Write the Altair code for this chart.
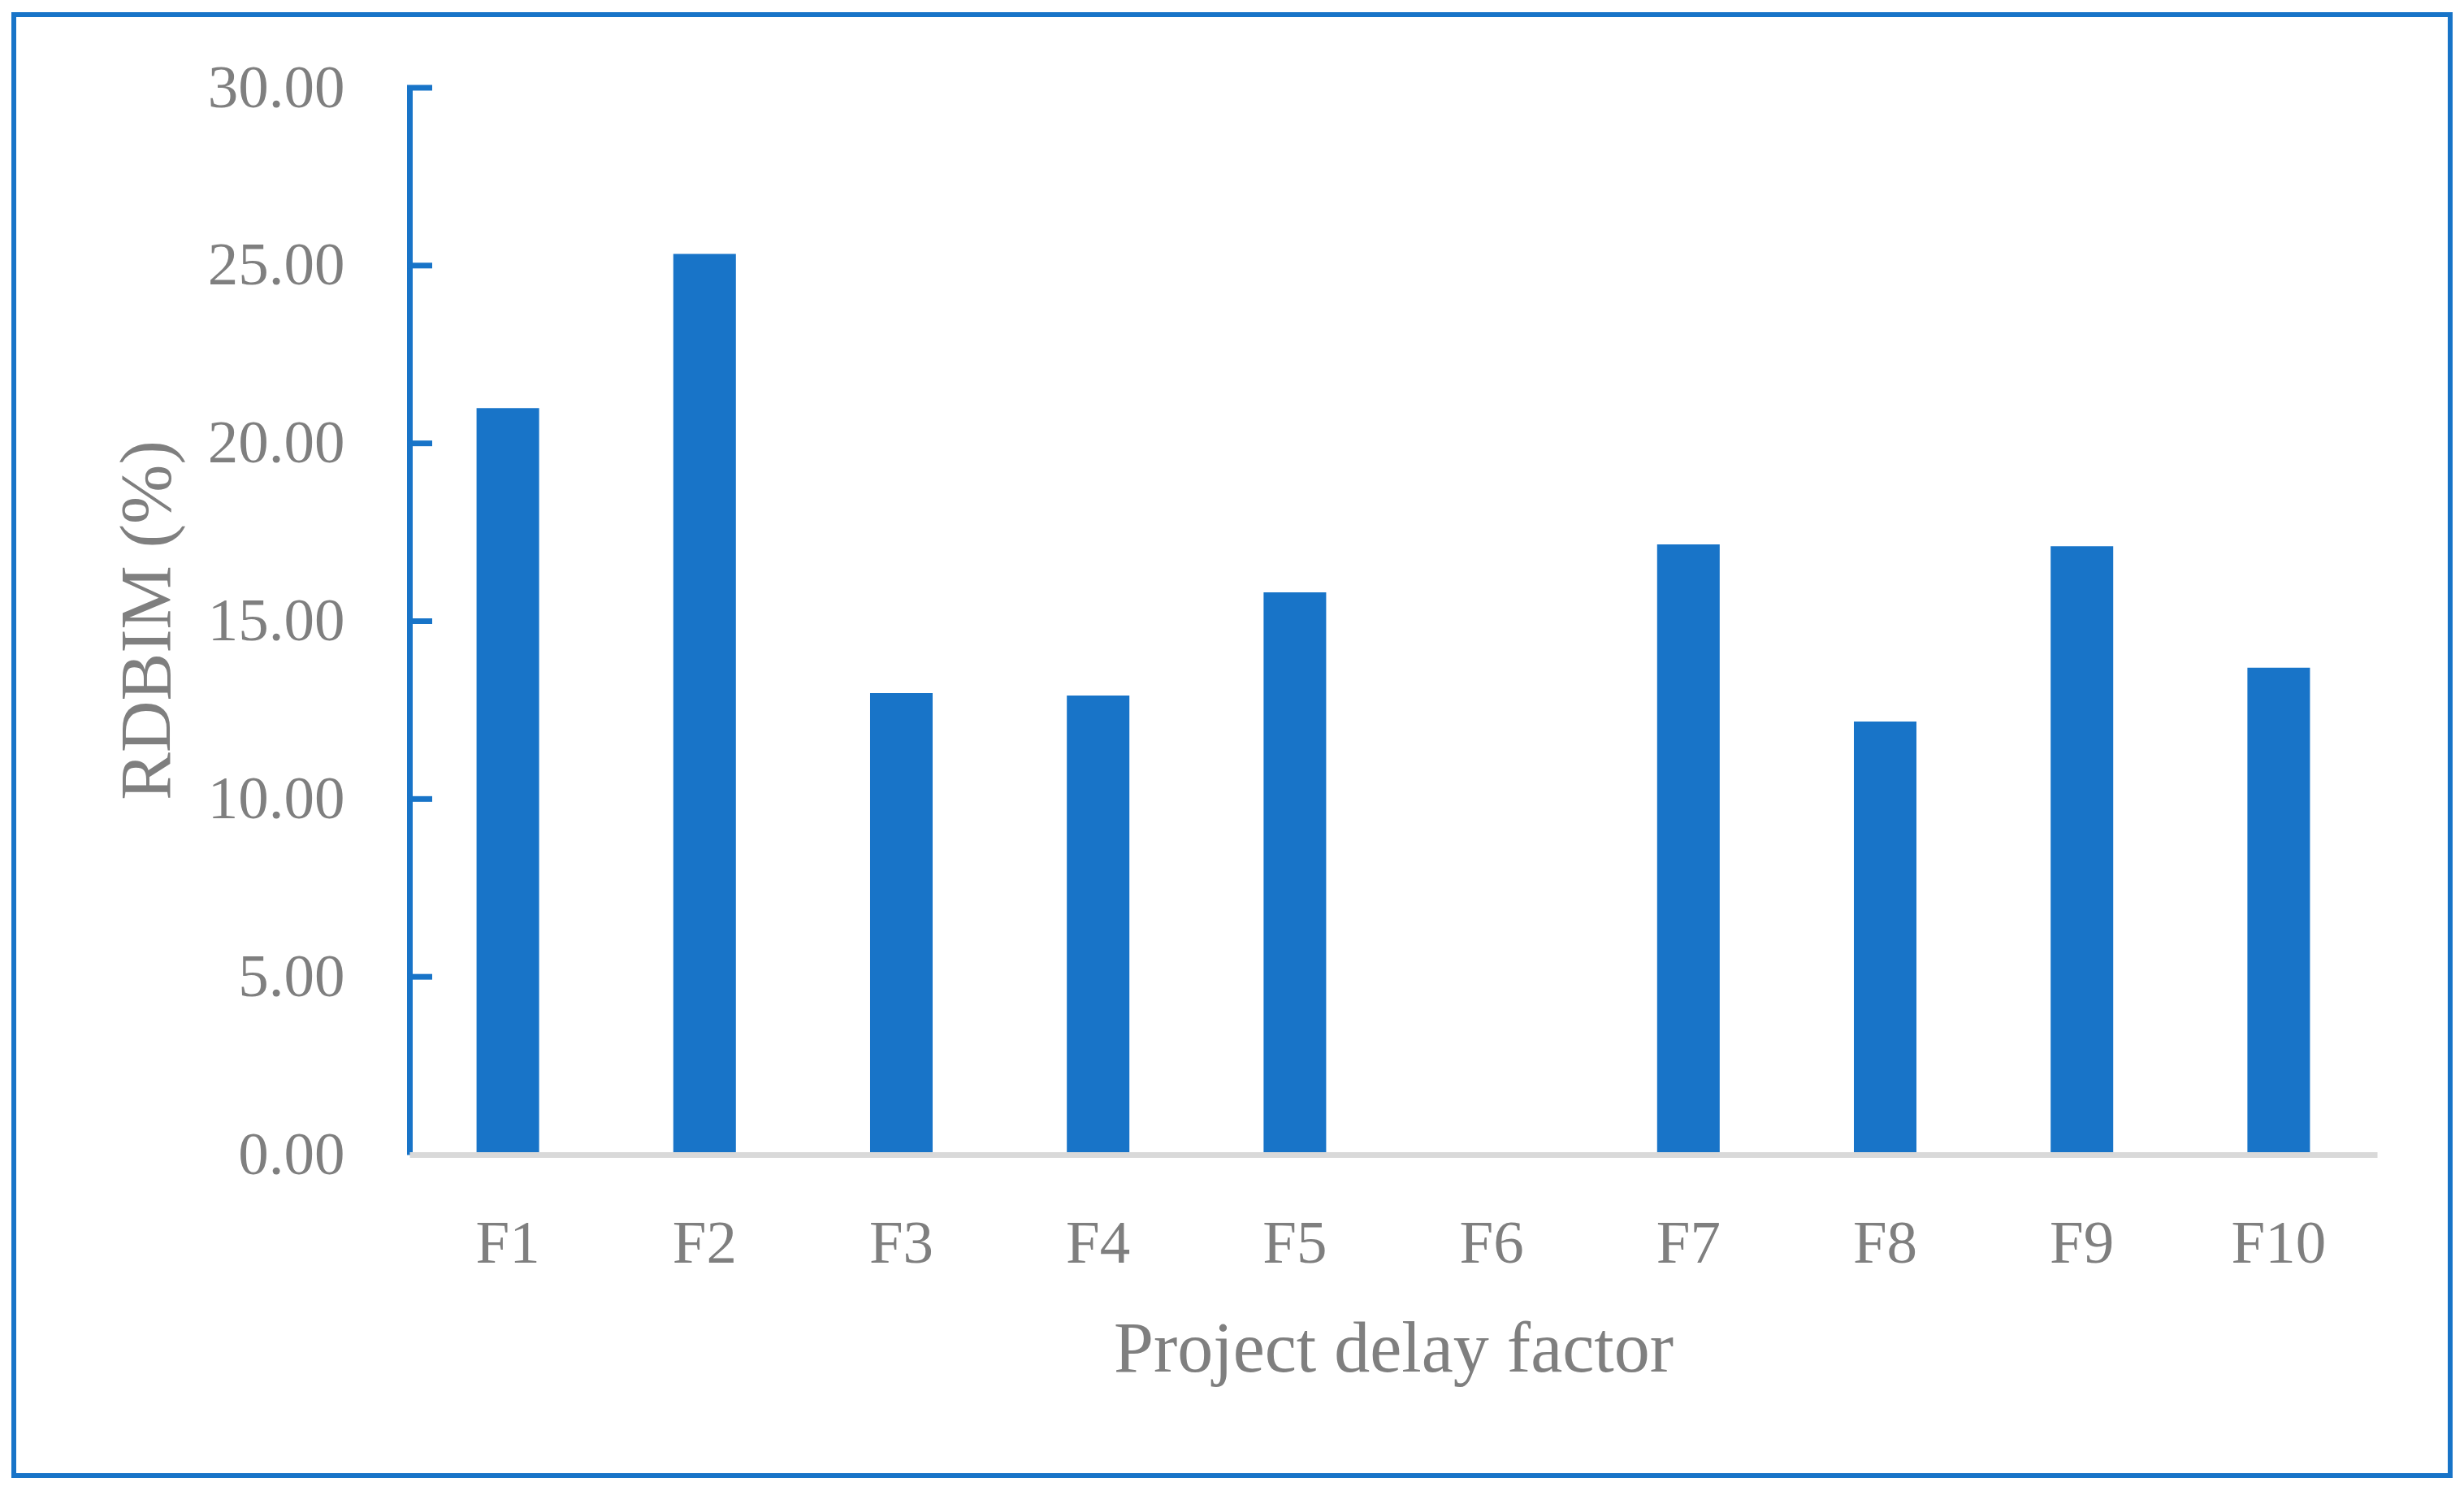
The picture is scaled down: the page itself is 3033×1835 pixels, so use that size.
import altair as alt
import pandas as pd

factors = ["F1", "F2", "F3", "F4", "F5", "F6", "F7", "F8", "F9", "F10"]
rdbim = [20.99, 25.33, 12.98, 12.91, 15.81, 0.0, 17.16, 12.18, 17.11, 13.69]
y_ticks = [0, 5, 10, 15, 20, 25, 30]
inner_ticks = [5, 10, 15, 20, 25, 30]

BLUE = "#1874C8"
GRAY = "#7F7F7F"
FONT = "Palatino Linotype, Book Antiqua, Palatino, Liberation Serif, serif"

W, H = 2422, 1313

df = pd.DataFrame({"factor": factors, "RDBIM": rdbim})
tick_df = pd.DataFrame({"RDBIM": inner_ticks})

y_axis = alt.Axis(
    title="RDBIM (%)",
    values=y_ticks,
    format=".2f",
    ticks=False,
    tickSize=0,
    domainColor=BLUE,
    domainWidth=7,
    labelFont=FONT,
    labelFontSize=75,
    labelColor=GRAY,
    labelAlign="right",
    labelBaseline="middle",
    labelPadding=80,
    titleFont=FONT,
    titleFontSize=88,
    titleFontWeight="normal",
    titleColor=GRAY,
    titleAngle=270,
    titleX=-296,
    titleY=655,
    titleAlign="center",
    titleBaseline="alphabetic",
    grid=False,
)
y_scale = alt.Scale(domain=[0, 30], nice=False)

bars = alt.Chart(df).mark_bar(color=BLUE).encode(
    x=alt.X(
        "factor:N",
        sort=factors,
        scale=alt.Scale(paddingInner=0.682, paddingOuter=0.341),
        axis=alt.Axis(
            title="Project delay factor",
            labelAngle=0,
            ticks=False,
            tickSize=0,
            domainColor="#D9D9D9",
            domainWidth=7,
            labelFont=FONT,
            labelFontSize=75,
            labelColor=GRAY,
            labelBaseline="alphabetic",
            labelPadding=132,
            titleFont=FONT,
            titleFontSize=88,
            titleFontWeight="normal",
            titleColor=GRAY,
            titleX=W / 2,
            titleY=266,
            titleAlign="center",
            titleBaseline="alphabetic",
            zindex=1,
            grid=False,
        ),
    ),
    y=alt.Y("RDBIM:Q", scale=y_scale, axis=y_axis),
)

ticks = alt.Chart(tick_df).mark_rule(color=BLUE, strokeWidth=7).encode(
    y=alt.Y("RDBIM:Q", scale=y_scale, axis=y_axis),
    x=alt.value(-3),
    x2=alt.value(28),
)

frame = alt.Chart(pd.DataFrame({"k": [0]})).mark_rect(
    fillOpacity=0, stroke=BLUE, strokeWidth=6
).encode(
    x=alt.value(-487),
    x2=alt.value(2512),
    y=alt.value(-90),
    y2=alt.value(1708),
)

chart = alt.layer(bars, ticks, frame).properties(
    width=W,
    height=H,
    autosize=alt.AutoSizeParams(type="none"),
    padding={"left": 496, "top": 100, "right": 96, "bottom": 400},
    background="white",
).configure_view(stroke=None)

chart.save("out.html", embed_options={"renderer": "svg", "actions": False})
